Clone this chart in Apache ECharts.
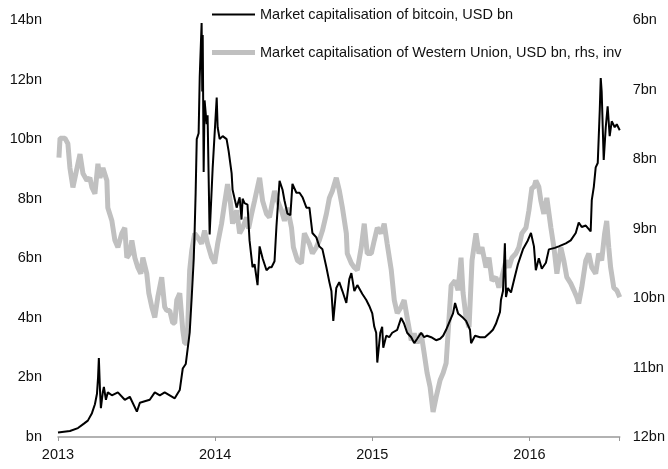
<!DOCTYPE html>
<html>
<head>
<meta charset="utf-8">
<script src="https://cdn.jsdelivr.net/npm/echarts@6/dist/echarts.min.js"></script>
<style>
html,body{margin:0;padding:0;background:#fff;}
#chart{width:668px;height:469px;}
</style>
</head>
<body>
<div id="chart"></div>
<script>
var seriesNames = ['Market capitalisation of bitcoin, USD bn', 'Market capitalisation of Western Union, USD bn, rhs, inv'];
var xTicks = [2013, 2014, 2015, 2016];
var leftTicks = [0, 2, 4, 6, 8, 10, 12, 14];
var rightTicks = [6, 7, 8, 9, 10, 11, 12];

// Bitcoin market cap (decimal year, USD bn)
var btcTime = [2013.000,2013.076,2013.127,2013.165,2013.190,2013.216,2013.235,2013.248,2013.255,2013.260,2013.267,2013.273,2013.285,2013.292,2013.305,2013.317,2013.343,2013.381,2013.425,2013.457,2013.502,2013.521,2013.552,2013.584,2013.616,2013.648,2013.679,2013.711,2013.743,2013.762,2013.775,2013.794,2013.813,2013.825,2013.838,2013.851,2013.864,2013.870,2013.876,2013.883,2013.895,2013.902,2013.914,2013.918,2013.921,2013.927,2013.933,2013.946,2013.952,2013.965,2013.984,2014.010,2014.016,2014.029,2014.048,2014.073,2014.086,2014.105,2014.111,2014.137,2014.156,2014.168,2014.175,2014.187,2014.206,2014.219,2014.238,2014.251,2014.270,2014.283,2014.302,2014.327,2014.346,2014.359,2014.378,2014.390,2014.397,2014.410,2014.429,2014.441,2014.460,2014.479,2014.492,2014.517,2014.537,2014.556,2014.581,2014.600,2014.619,2014.644,2014.663,2014.683,2014.708,2014.727,2014.740,2014.752,2014.771,2014.790,2014.810,2014.835,2014.854,2014.867,2014.886,2014.905,2014.937,2014.962,2014.981,2015.000,2015.013,2015.025,2015.032,2015.051,2015.063,2015.070,2015.089,2015.108,2015.127,2015.159,2015.184,2015.203,2015.222,2015.248,2015.267,2015.286,2015.311,2015.330,2015.349,2015.375,2015.406,2015.432,2015.451,2015.470,2015.514,2015.527,2015.546,2015.578,2015.597,2015.622,2015.629,2015.654,2015.686,2015.717,2015.749,2015.768,2015.787,2015.813,2015.819,2015.832,2015.844,2015.851,2015.863,2015.883,2015.908,2015.927,2015.959,2015.990,2016.010,2016.029,2016.041,2016.060,2016.079,2016.105,2016.124,2016.162,2016.187,2016.232,2016.263,2016.295,2016.314,2016.333,2016.359,2016.390,2016.397,2016.410,2016.422,2016.435,2016.448,2016.454,2016.460,2016.473,2016.486,2016.498,2016.511,2016.524,2016.543,2016.556,2016.575];
var btcValue = [0.15,0.2,0.3,0.45,0.55,0.8,1.1,1.45,2.0,2.65,1.6,0.97,1.5,1.68,1.25,1.5,1.4,1.5,1.25,1.35,0.85,1.15,1.2,1.25,1.5,1.4,1.5,1.4,1.3,1.47,1.58,2.3,2.45,2.5,3.5,4.7,6.0,7.0,8.2,10.0,10.2,12.1,13.9,11.6,13.5,8.9,11.3,10.5,10.8,6.8,9.0,11.4,10.4,10.0,10.1,10.0,9.6,8.85,8.3,7.7,8.05,7.3,8.0,7.85,7.8,6.6,5.7,5.8,5.1,6.4,6.0,5.6,5.7,5.7,5.9,7.05,7.6,8.6,8.3,7.95,7.5,7.45,8.5,8.2,8.2,8.05,7.7,7.7,6.85,6.7,6.4,6.3,5.7,5.2,4.9,3.9,5.0,5.2,4.9,4.5,5.3,5.5,4.9,5.1,4.8,4.6,4.4,4.15,3.7,3.5,2.5,3.5,3.7,3.0,3.4,3.35,3.5,3.6,4.0,3.8,3.5,3.35,3.15,3.3,3.5,3.35,3.4,3.35,3.25,3.3,3.4,3.6,4.15,4.5,4.15,4.0,3.9,3.6,3.15,3.4,3.35,3.35,3.5,3.6,3.8,4.2,4.6,4.9,6.5,4.7,5.0,4.85,5.4,5.8,6.3,6.6,6.85,6.4,5.6,6.0,5.65,5.85,6.3,6.35,6.4,6.5,6.6,6.85,7.2,7.05,7.1,6.9,7.95,8.4,9.05,9.2,11.0,12.05,11.6,9.3,10.4,11.1,10.1,10.6,10.4,10.5,10.3];

// Western Union market cap (decimal year, USD bn) - right axis, inverted
var wuTime = [2013.006,2013.013,2013.044,2013.063,2013.076,2013.095,2013.121,2013.140,2013.159,2013.184,2013.203,2013.216,2013.235,2013.254,2013.267,2013.286,2013.311,2013.317,2013.343,2013.362,2013.381,2013.406,2013.425,2013.438,2013.457,2013.470,2013.489,2013.508,2013.527,2013.540,2013.565,2013.578,2013.597,2013.616,2013.635,2013.660,2013.679,2013.692,2013.711,2013.730,2013.743,2013.756,2013.775,2013.794,2013.806,2013.819,2013.825,2013.838,2013.851,2013.870,2013.889,2013.914,2013.933,2013.952,2013.978,2013.997,2014.016,2014.041,2014.060,2014.079,2014.098,2014.111,2014.137,2014.156,2014.175,2014.200,2014.213,2014.232,2014.251,2014.283,2014.302,2014.327,2014.346,2014.378,2014.397,2014.422,2014.441,2014.460,2014.486,2014.498,2014.524,2014.549,2014.568,2014.600,2014.619,2014.644,2014.663,2014.683,2014.708,2014.727,2014.746,2014.771,2014.790,2014.810,2014.835,2014.841,2014.867,2014.886,2014.905,2014.930,2014.949,2014.968,2014.994,2015.013,2015.032,2015.057,2015.076,2015.095,2015.121,2015.140,2015.159,2015.184,2015.203,2015.222,2015.248,2015.267,2015.286,2015.311,2015.330,2015.349,2015.368,2015.387,2015.406,2015.432,2015.451,2015.470,2015.489,2015.502,2015.527,2015.546,2015.565,2015.578,2015.597,2015.616,2015.635,2015.660,2015.679,2015.698,2015.724,2015.743,2015.762,2015.787,2015.806,2015.825,2015.851,2015.870,2015.889,2015.914,2015.933,2015.952,2015.978,2015.997,2016.016,2016.029,2016.041,2016.060,2016.073,2016.092,2016.111,2016.137,2016.156,2016.175,2016.200,2016.219,2016.238,2016.263,2016.283,2016.302,2016.314,2016.333,2016.359,2016.378,2016.397,2016.422,2016.441,2016.460,2016.479,2016.492,2016.505,2016.517,2016.537,2016.556,2016.575];
var wuValue = [7.98,7.70,7.70,7.78,8.13,8.41,8.13,7.93,8.21,8.31,8.27,8.41,8.50,8.07,8.27,8.13,8.31,8.70,8.89,9.17,9.27,9.07,8.99,9.42,9.36,9.17,9.42,9.56,9.65,9.42,9.65,9.93,10.13,10.28,9.99,9.70,10.13,10.18,10.18,10.36,10.36,10.03,9.93,10.46,10.65,10.65,10.46,9.60,9.32,9.07,9.13,9.22,9.03,9.22,9.42,9.50,9.22,8.93,8.64,8.36,8.64,8.93,8.74,9.07,8.99,8.84,9.0,8.79,8.60,8.27,8.6,8.79,8.84,8.46,8.6,8.74,8.89,8.70,8.99,9.27,9.46,9.50,9.07,9.22,9.36,9.27,9.17,9.03,8.79,8.56,8.46,8.27,8.45,8.70,9.07,9.36,9.50,9.56,9.60,9.27,8.93,9.36,9.36,9.17,8.99,9.07,8.93,9.22,9.60,10.03,10.22,10.13,10.03,10.28,10.61,10.51,10.65,10.51,10.79,11.08,11.28,11.64,11.43,11.18,11.08,10.94,10.28,9.82,9.75,9.89,9.42,9.93,10.28,10.42,9.46,9.07,9.36,9.27,9.56,9.42,9.75,9.70,9.85,9.70,9.46,9.56,9.42,9.36,9.27,9.07,8.99,8.74,8.41,8.41,8.31,8.40,8.60,8.79,8.56,8.99,9.27,9.65,9.27,9.46,9.70,9.79,9.89,9.99,10.08,9.85,9.46,9.36,9.56,9.65,9.36,9.46,9.07,8.89,9.27,9.56,9.85,9.89,9.99];

function zip(a, b) { return a.map(function (t, i) { return [t, b[i]]; }); }

var chart = echarts.init(document.getElementById('chart'), null, {renderer: 'canvas'});
var FONT = 'Liberation Sans, Arial, sans-serif';
var FS = 14.5;
var textStyle = {fontFamily: FONT, fontSize: FS, color: '#111111'};

chart.setOption({
  animation: false,
  backgroundColor: '#ffffff',
  textStyle: textStyle,
  grid: {left: 58, right: 47, top: 20, bottom: 32, containLabel: false},
  legend: {
    orient: 'vertical',
    left: 207,
    top: 2,
    itemWidth: 43,
    itemHeight: 14,
    itemGap: 23,
    textStyle: textStyle,
    data: [
      {name: seriesNames[0], icon: 'path://M0,0H44V2H0Z'},
      {name: seriesNames[1], icon: 'path://M0,0H44V5H0Z'}
    ],
    itemStyle: {borderWidth: 0},
    selectedMode: false
  },
  xAxis: {
    type: 'value',
    min: xTicks[0],
    max: 2016.575,
    interval: 1,
    axisLine: {show: true, lineStyle: {color: '#999999', width: 1.5}},
    axisTick: {show: true, length: 4, lineStyle: {color: '#999999'}},
    splitLine: {show: false},
    axisLabel: {
      margin: 10,
      fontFamily: FONT, fontSize: FS, color: '#111111',
      formatter: function (v) { return xTicks.indexOf(v) >= 0 ? String(v) : ''; }
    }
  },
  yAxis: [
    {
      type: 'value',
      min: leftTicks[0],
      max: leftTicks[leftTicks.length - 1],
      interval: 2,
      axisLine: {show: false},
      axisTick: {show: false},
      splitLine: {show: false},
      axisLabel: {
        margin: 16,
        fontFamily: FONT, fontSize: FS, color: '#111111',
        formatter: function (v) { return v === 0 ? 'bn' : v + 'bn'; }
      }
    },
    {
      type: 'value',
      inverse: true,
      min: rightTicks[0],
      max: rightTicks[rightTicks.length - 1],
      interval: 1,
      position: 'right',
      axisLine: {show: false},
      axisTick: {show: false},
      splitLine: {show: false},
      axisLabel: {
        margin: 13,
        fontFamily: FONT, fontSize: FS, color: '#111111',
        formatter: function (v) { return v + 'bn'; }
      }
    }
  ],
  series: [
    {
      name: seriesNames[1],
      type: 'line',
      yAxisIndex: 1,
      data: zip(wuTime, wuValue),
      symbol: 'none',
      showSymbol: false,
      lineStyle: {color: '#c0c0c0', width: 5},
      itemStyle: {color: '#c0c0c0'},
      z: 1
    },
    {
      name: seriesNames[0],
      type: 'line',
      yAxisIndex: 0,
      data: zip(btcTime, btcValue),
      symbol: 'none',
      showSymbol: false,
      lineStyle: {color: '#000000', width: 2},
      itemStyle: {color: '#000000'},
      z: 2
    }
  ]
});
</script>
</body>
</html>
